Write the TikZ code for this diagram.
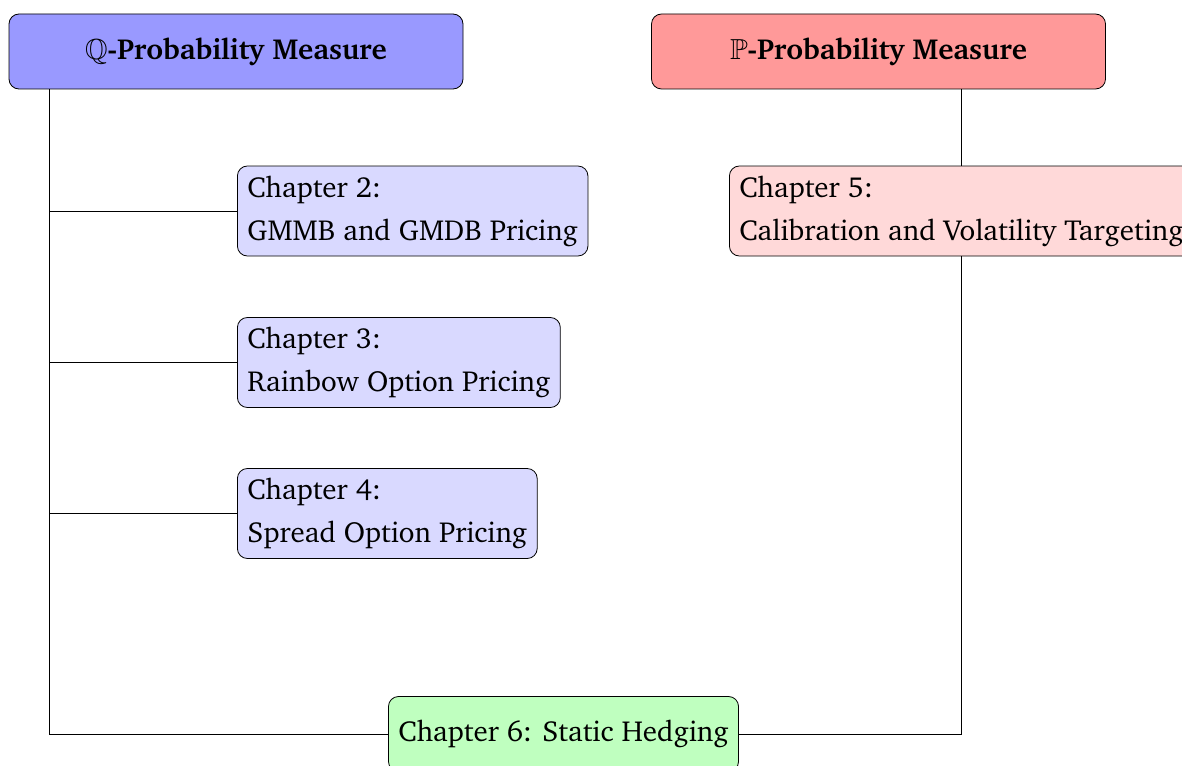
\documentclass[tikz,border=0pt]{standalone}
\usepackage[T1]{fontenc}
\usepackage{amssymb}
\usepackage{charter}
\begin{document}
\begin{tikzpicture}[x=0.5pt, y=-0.5pt,
  every node/.style={draw, rounded corners=5pt, font=\fontsize{14.5}{21.5}\selectfont},
  measure/.style={minimum width=227pt, minimum height=37.5pt, font=\fontsize{14.5}{21.5}\selectfont\bfseries},
  chapter/.style={align=left, inner xsep=5pt, minimum height=45pt}
  ]
  \useasboundingbox (0,0) rectangle (1182,765);
  % the two measures
  \node[measure, fill=blue!40] (Q) at (236,51.5) {$\mathbb{Q}$-Probability Measure};
  \node[measure, fill=red!40] (P) at (878.5,51.5) {$\mathbb{P}$-Probability Measure};
  % chapters
  \node[chapter, fill=blue!15, anchor=west] (ch2) at (237,211) {Chapter 2:\\GMMB and GMDB Pricing};
  \node[chapter, fill=blue!15, anchor=west] (ch3) at (237,362.5) {Chapter 3:\\Rainbow Option Pricing};
  \node[chapter, fill=blue!15, anchor=west] (ch4) at (237,513.5) {Chapter 4:\\Spread Option Pricing};
  \node[chapter, fill=red!15, anchor=west] (ch5) at (729,211) {Chapter 5:\\Calibration and Volatility Targeting};
  \node[fill=green!25, minimum height=37.5pt, inner xsep=5pt] (ch6) at (563.5,734) {Chapter 6: Static Hedging};

  \coordinate (qroot) at ([xshift=20.5pt]Q.south west);
  \draw (qroot) |- (ch6.west);
  \foreach \c in {ch2,ch3,ch4}{
    \draw (qroot |- \c.west) -- (\c.west);
  }
  \draw (ch5.north) -- (ch5.north |- P.south);
  \draw (ch5.south) |- (ch6.east);
\end{tikzpicture}
\end{document}
